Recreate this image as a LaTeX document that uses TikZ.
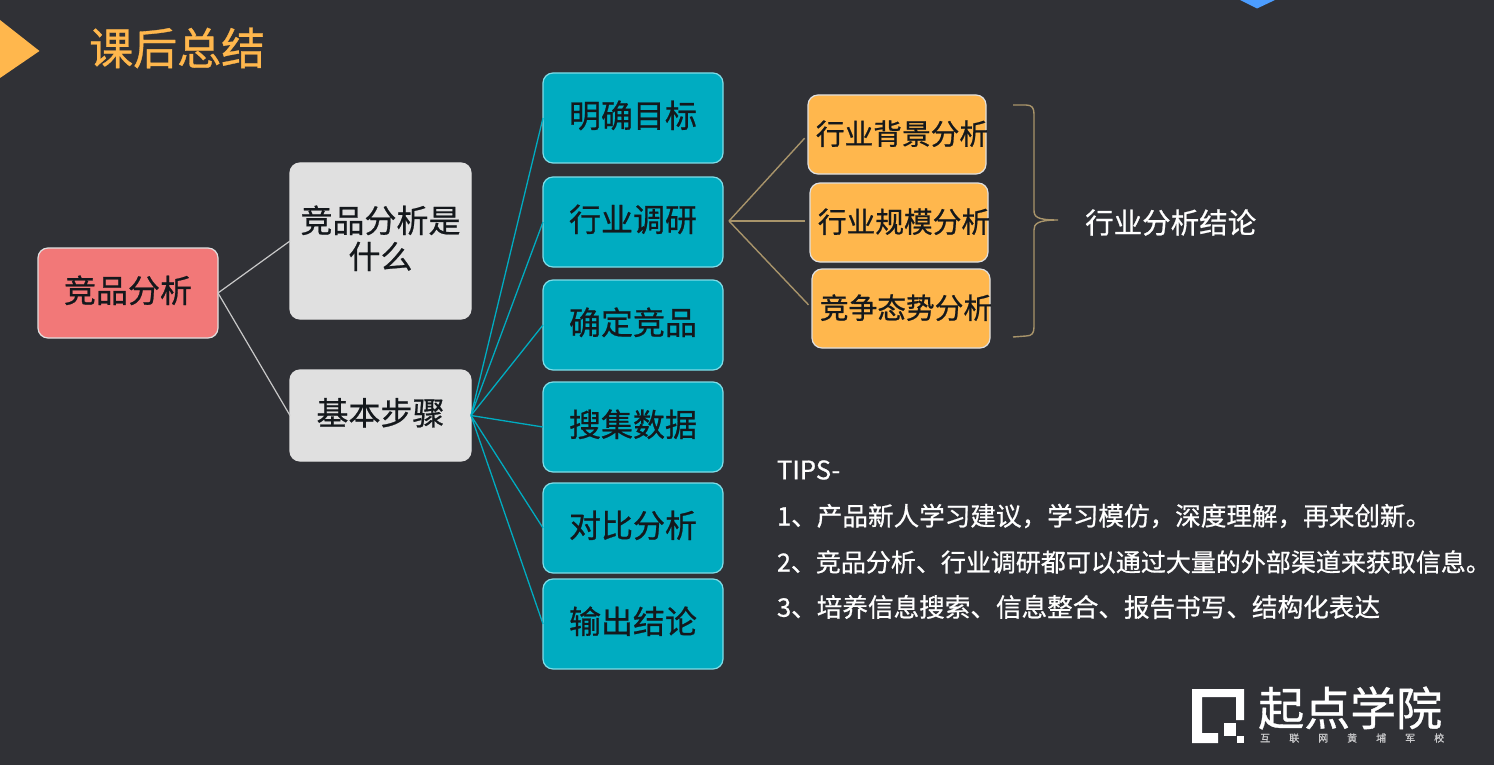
\documentclass[tikz,border=0pt]{standalone}
\usepackage{fontspec}
\setmainfont{Noto Sans CJK SC}[FakeBold=0.7]
\usepackage{xcolor}
\usepackage{tikz}
\usetikzlibrary{positioning}

\definecolor{pagebg}{HTML}{303136}
\definecolor{goldtone}{HTML}{FFB74D}
\definecolor{tealbox}{HTML}{00ACC1}
\definecolor{tealedge}{HTML}{7FDDE8}
\definecolor{redbox}{HTML}{F27878}
\definecolor{greybox}{HTML}{E0E0E0}
\definecolor{goldline}{HTML}{A8946A}
\definecolor{greyline}{HTML}{C8C8C8}
\definecolor{inktext}{HTML}{14181C}

\newcommand{\nudged}[1]{\makebox[0pt]{\hspace{10pt}#1}}

\tikzset{
  basebox/.style={draw, rounded corners=10pt, align=center, inner sep=0pt, outer sep=0pt,
    line width=1.2pt, text=inktext, text depth=8pt, font=\fontsize{32}{36}\selectfont},
  rootbox/.style={basebox, fill=redbox, draw=greybox, minimum width=180pt, minimum height=90pt},
  topicbox/.style={basebox, fill=greybox, draw=greybox, minimum width=181pt},
  stepbox/.style={basebox, fill=tealbox, draw=tealedge, minimum width=180pt, minimum height=90pt},
  subbox/.style={basebox, fill=goldtone, draw=greybox, minimum width=178pt, minimum height=79pt,
    text depth=4pt, font=\fontsize{28.7}{34}\selectfont},
  plaintext/.style={text=white, inner sep=0pt, outer sep=0pt, anchor=west, font=\fontsize{25.6}{30}\selectfont},
  greylink/.style={draw=greyline, line width=1.2pt},
  teallink/.style={draw=tealbox, line width=1.3pt},
  goldlink/.style={draw=goldline, line width=1.4pt, shorten >=5pt},
}

\begin{document}
\begin{tikzpicture}[x=1pt, y=-1pt]
  \useasboundingbox (0,0) rectangle (1494,765);
  \fill[pagebg] (0,0) rectangle (1494,765);
  \fill[goldtone] (0,20) -- (39.5,51) -- (0,78) -- cycle;
  \fill[blue!55!cyan!70!white] (1240,0) -- (1257,8.5) -- (1275,0) -- cycle;
  \node[text=goldtone, inner sep=0pt, anchor=west, font=\fontsize{44}{50}\selectfont] (title) at (89,48) {课后总结};

  \node[rootbox] (root) at (128,293) {竞品分析};
  \node[topicbox, minimum height=156pt] (what) at (380.5,241) {竞品分析是\\什么};
  \node[topicbox, minimum height=91pt, below=51pt of what] (steps) {基本步骤};

  \node[stepbox] (goal) at (633,118) {明确目标};
  \node[stepbox, below=14pt of goal] (survey) {行业调研};
  \node[stepbox, below=13pt of survey] (pick) {确定竞品};
  \node[stepbox, below=12pt of pick] (collect) {搜集数据};
  \node[stepbox, below=11pt of collect] (compare) {对比分析};
  \node[stepbox, below=6pt of compare] (output) {输出结论};

  \node[subbox] (bg) at (897,134.5) {\nudged{行业背景分析}};
  \node[subbox] (scale) at (899,222.5) {\nudged{行业规模分析}};
  \node[subbox] (rival) at (901,308.5) {\nudged{竞争态势分析}};

  \node[text=white, inner sep=0pt, anchor=west, font=\fontsize{28.5}{34}\selectfont] (verdict) at (1085,222.5) {行业分析结论};

  \coordinate (fork) at (729,221);
  \draw[greylink] (root.east) -- (what.west);
  \draw[greylink] (root.east) -- (steps.west);
  \foreach \n in {goal,survey,pick,collect,compare,output}
    \draw[teallink] (steps.east) -- (\n.west);
  \draw[goldlink] (fork) -- (bg.west);
  \draw[goldlink] (fork) -- (fork -| scale.west);
  \draw[goldlink] (fork) -- (rival.west);

  % bracket
  \draw[goldline, line width=1.4pt] (1013,105) -- (1026,105) .. controls (1032,105) and (1034,108) .. (1034,114)
    -- (1034,210) .. controls (1034,217) and (1037,220) .. (1058,220)
    .. controls (1037,220) and (1034,224) .. (1034,230)
    -- (1034,327) .. controls (1034,333) and (1032,336) .. (1026,336) -- (1013,337);

  \node[plaintext] (tiphead) at (777,470) {TIPS-};
  \node[plaintext] (tipa) at (777,516) {1、产品新人学习建议，学习模仿，深度理解，再来创新。};
  \node[plaintext, font=\fontsize{25}{30}\selectfont] (tipb) at (777,562) {2、竞品分析、行业调研都可以通过大量的外部渠道来获取信息。};
  \node[plaintext] (tipc) at (777,607) {3、培养信息搜索、信息整合、报告书写、结构化表达};

  % logo
  \fill[white] (1192,689) -- (1244,689) -- (1244,720) -- (1236,720) -- (1236,697) -- (1202,697)
    -- (1202,733) -- (1218,733) -- (1218,743) -- (1192,743) -- cycle;
  \fill[white] (1224,723) rectangle (1236,736);
  \fill[white] (1237,736) rectangle (1244,743);
  \node[text=white, inner sep=0pt, anchor=west, font=\fontsize{46}{50}\selectfont] (brand) at (1258,708) {起点学院};
  \node[text=white!75!pagebg, inner sep=0pt, anchor=west, font=\fontsize{10}{12}\selectfont] (motto) at (1260,738)
    {互\hspace{19pt}联\hspace{19pt}网\hspace{19pt}黄\hspace{19pt}埔\hspace{19pt}军\hspace{19pt}校};
\end{tikzpicture}
\end{document}
